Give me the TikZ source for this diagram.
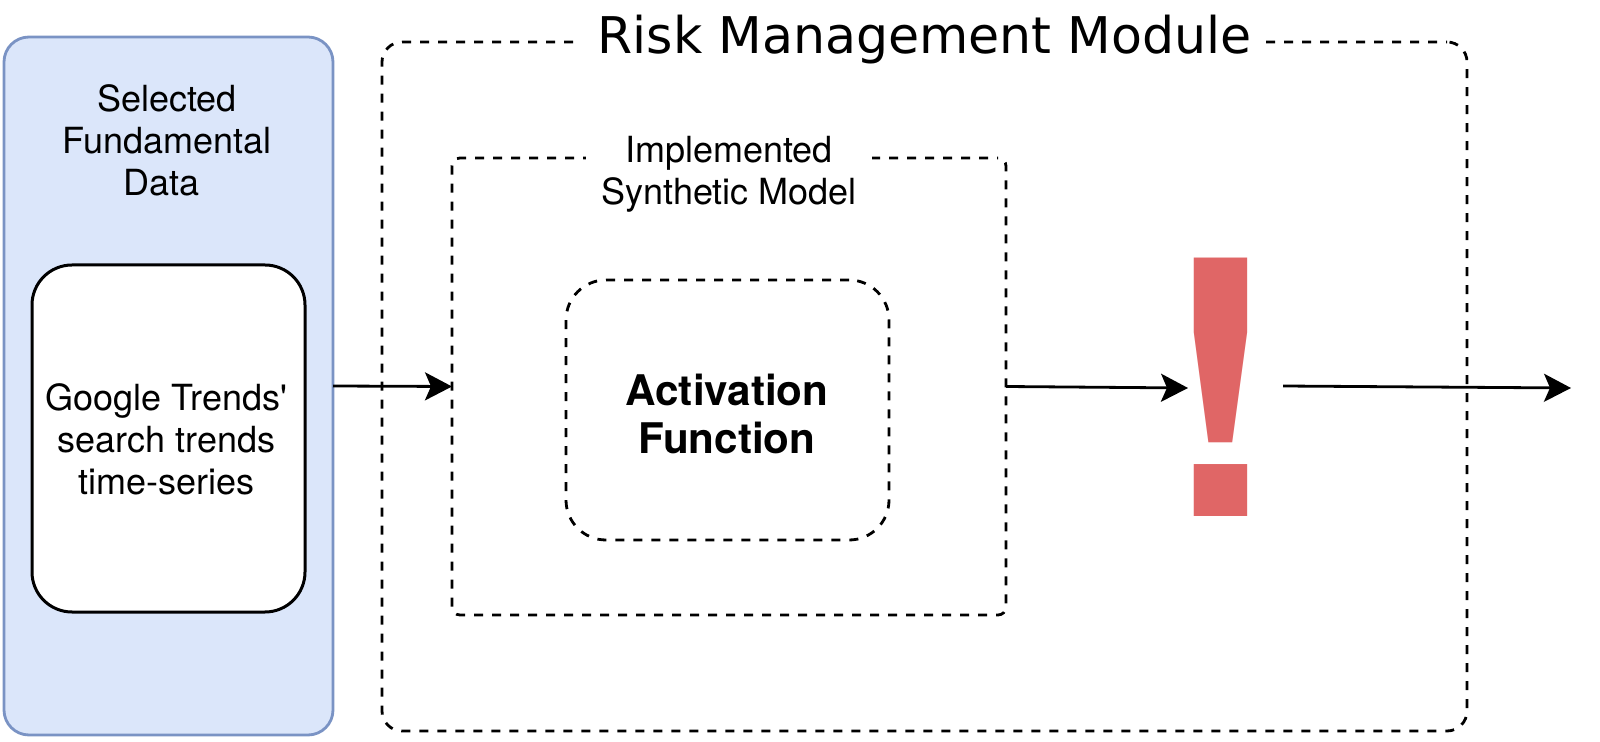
\documentclass[tikz,border=0pt]{standalone}
\usepackage{fontspec}
\setmainfont{TeX Gyre Heros}
\newfontfamily\plainfont{TeX Gyre Heros}
\newfontfamily\titlefont{DejaVu Sans}
\usetikzlibrary{arrows.meta}
\definecolor{bluefill}{HTML}{DBE6FA}
\definecolor{blueline}{HTML}{7A93C4}
\definecolor{bangred}{HTML}{E06666}
\tikzset{
  x=0.5pt,y=-0.5pt,
  bodytext/.style={font=\plainfont\fontsize{18}{21}\selectfont},
  boxbase/.style={shape=rectangle,outer sep=0pt,inner sep=0pt},
  dashbox/.style={boxbase,draw=black,line width=1.4pt,dash pattern=on 4.5pt off 4.5pt},
  flow/.style={draw=black,line width=1.4pt,-{Stealth[length=13.5pt,width=14pt,inset=3pt]}},
  labelgap/.style={fill=white,inner sep=0pt,outer sep=0pt,align=center},
  plainlabel/.style={inner sep=0pt,outer sep=0pt,align=center},
}
\begin{document}
\begin{tikzpicture}
\useasboundingbox (0,0) rectangle (1600,742);
\node[boxbase,draw=blueline,fill=bluefill,line width=1.4pt,rounded corners=12.5pt,minimum width=164.5pt,minimum height=349pt] (blue) at (168.5,386) {};
\node[boxbase,draw=black,fill=white,line width=1.5pt,rounded corners=20pt,minimum width=136.5pt,minimum height=173.5pt] (trends) at (168.5,438.5) {};
\node[plainlabel,bodytext] (trendstext) at (166.5,439.5) {Google Trends'\\search trends\\time-series};
\node[plainlabel,bodytext] (sel) at (167,140) {Selected\\Fundamental\\Data\hspace*{5pt}};
\node[dashbox,dash phase=4pt,rounded corners=10pt,minimum width=542.5pt,minimum height=344.5pt] (risk) at (924.5,386.5) {};
\node[dashbox,dash phase=4pt,rounded corners=4pt,minimum width=277pt,minimum height=228.5pt] (synth) at (729,386.5) {};
\node[dashbox,rounded corners=20pt,minimum width=161.5pt,minimum height=130pt] (act) at (727.5,410) {};
\node[plainlabel,font=\bfseries\fontsize{21.1}{24}\selectfont] (acttext) at (727,414) {Activation\\Function};
\node[labelgap,font=\titlefont\fontsize{25.3}{30}\selectfont,minimum width=346pt,minimum height=30pt] (title) at (920,40) {\hspace*{4.6pt}Risk Management Module};
\node[labelgap,bodytext,minimum width=143pt] (impl) at (729,174) {Implemented\\Synthetic Model};
\node[inner sep=0pt,outer sep=0pt,text=bangred,font=\bfseries\fontsize{178}{178}\selectfont] (bang) at (1221,387) {!};
\coordinate (bangin) at (1188,388);
\coordinate (bangout) at (1283,386);
\coordinate (exit) at (1571,388);
\draw[flow] (blue.east) -- (synth.west);
\draw[flow] (synth.east) -- (bangin);
\draw[flow] (bangout) -- (exit);
\end{tikzpicture}
\end{document}
